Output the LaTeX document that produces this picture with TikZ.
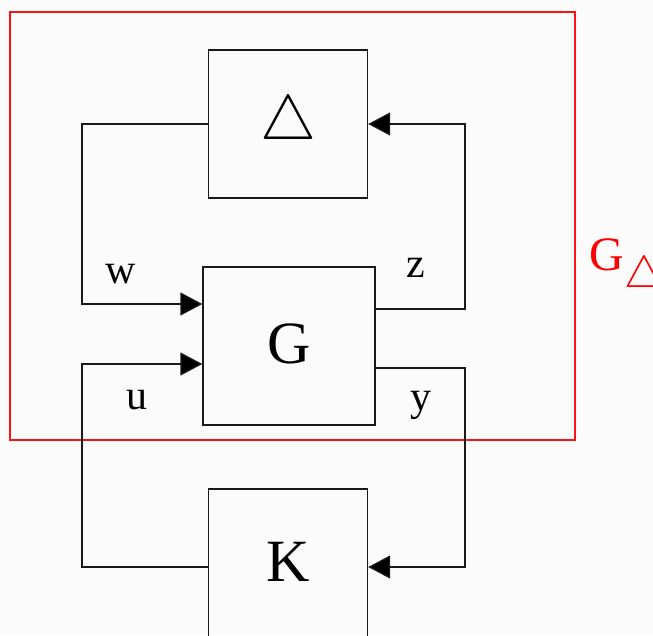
\documentclass[tikz,border=0pt]{standalone}
\usepackage{fontspec}
\setmainfont{Liberation Serif}
\usetikzlibrary{arrows.meta}
\definecolor{bgc}{RGB}{250,251,250}
\definecolor{redc}{RGB}{250,20,20}
\tikzset{
  blk/.style={draw=black!90, line width=1.4pt, rectangle, inner sep=0pt},
  conn/.style={draw=black!90, line width=1.4pt},
  arr/.style={conn, -{Triangle[length=22pt,width=23pt,fill=black]}},
  sig/.style={font=\fontsize{42}{42}\selectfont, anchor=base, inner sep=0pt},
}
\begin{document}
\begin{tikzpicture}[x=1pt,y=-1pt]
\useasboundingbox[fill=bgc] (0,0) rectangle (653,635);
\begin{scope}
\clip (0,0) rectangle (653,635);
% red frame
\draw[redc, line width=1.4pt] (10,12) rectangle (575,440);
\node[red, anchor=base west, inner sep=0pt, font=\fontsize{48}{48}\selectfont] (gd) at (589,270)
  {G\hspace{1pt}\raisebox{-17pt}{\scalebox{1.8}{$\triangle$}}};
% blocks
\node[blk, minimum width=159pt, minimum height=148pt] (D) at (288,124)
  {\raisebox{3pt}{\scalebox{6.3}{$\triangle$}}};
\node[blk, minimum width=172pt, minimum height=158pt, text depth=5pt,
  font=\fontsize{60}{60}\selectfont] (G) at (289,346) {G};
\node[blk, minimum width=159pt, minimum height=156pt, text depth=10pt,
  font=\fontsize{60}{60}\selectfont] (K) at (288,567) {K};
% routing coordinates
\coordinate (lx) at (82,0);
\coordinate (rx) at (465,0);
\coordinate (gw) at ([yshift=42pt]G.west);
\coordinate (gz) at ([yshift=37pt]G.east);
\coordinate (gu) at ([yshift=-18pt]G.west);
\coordinate (gy) at ([yshift=-22pt]G.east);
% connectors
\draw[arr] (D.west) -- (D.west -| lx) |- (gw);
\draw[arr] (gz) -- (gz -| rx) |- (D.east);
\draw[arr] (K.west) -- (K.west -| lx) |- (gu);
\draw[arr] (gy) -- (gy -| rx) |- (K.east);
% labels
\node[sig] (w) at (121,283) {w};
\node[sig] (z) at (416,277) {z};
\node[sig] (u) at (137,409) {u};
\node[sig] (y) at (421,410) {y};
\end{scope}
\end{tikzpicture}
\end{document}
